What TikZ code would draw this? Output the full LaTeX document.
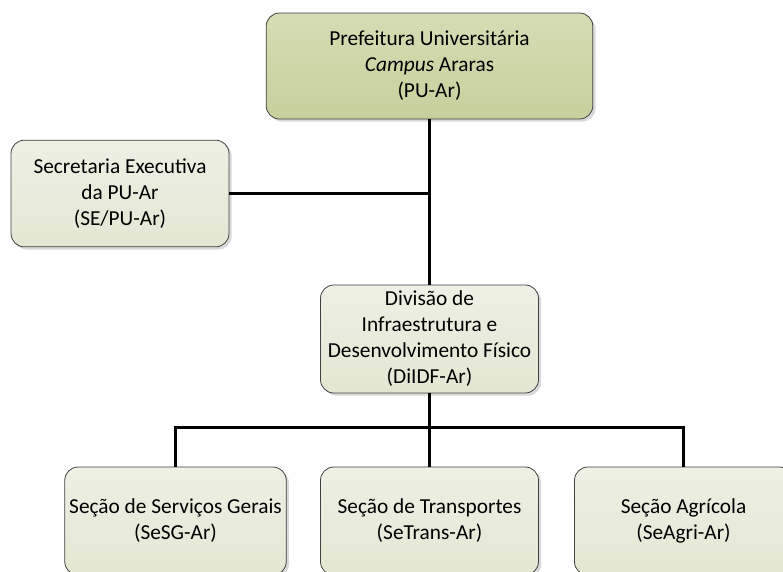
\documentclass[tikz,border=0pt]{standalone}
\usepackage{fontspec}
\setmainfont{Carlito}
\usepackage{tikz}
\usetikzlibrary{shapes.geometric, arrows, positioning, shadows}
\definecolor{headtop}{RGB}{214,220,180}
\definecolor{headbot}{RGB}{198,208,156}
\definecolor{unittop}{RGB}{238,240,228}
\definecolor{unitbot}{RGB}{227,231,210}
\tikzstyle{head} = [rectangle, rounded corners=10pt, minimum width=245pt, minimum height=79.5pt, align=center, draw=black!75, line width=0.6pt, top color=headtop, bottom color=headbot, drop shadow={shadow xshift=2pt, shadow yshift=-2pt, opacity=0.3}, font=\fontsize{16}{19.5}\selectfont]
\tikzstyle{unit} = [rectangle, rounded corners=10pt, minimum width=163.5pt, minimum height=81pt, align=center, draw=black!75, line width=0.6pt, top color=unittop, bottom color=unitbot, drop shadow={shadow xshift=2pt, shadow yshift=-2pt, opacity=0.3}, font=\fontsize{16}{19.5}\selectfont]
\tikzstyle{link} = [line width=2.25pt, black]

\begin{document}
\begin{tikzpicture}[x=0.75pt, y=-0.75pt]
            \useasboundingbox (0,0) rectangle (783,572);
            \clip (0,0) rectangle (783,572);

            % Place nodes
            \node (pu) [head] at (429.5,66) {Prefeitura Universitária\\ \textit{Campus} Araras\\ (PU-Ar)};
            \node (se) [unit, minimum height=80pt] at (120,193.5) {Secretaria Executiva\\ da PU-Ar\\ (SE/PU-Ar)};
            \node (di) [unit, below of=pu, node distance=204.75pt] {Divisão de\\ Infraestrutura e\\ Desenvolvimento Físico\\ (DiIDF-Ar)};
            \coordinate (bus) at ([yshift=-25.5pt]di.south);
            \node (tr) [unit, below of=di, node distance=136.5pt] {Seção de Transportes\\ (SeTrans-Ar)};
            \node (sg) [unit, left of=tr, node distance=190.5pt] {Seção de Serviços Gerais\\ (SeSG-Ar)};
            \node (ag) [unit, right of=tr, node distance=190.5pt] {Seção Agrícola\\ (SeAgri-Ar)};

            % Draw edges
            \draw [link] (pu.south) -- (di.north);
            \draw [link] (se.east) -- (se.east -| pu.south);
            \draw [link] (di.south) -- (bus);
            \draw [link] (bus) -| (sg.north);
            \draw [link] (bus) -- (tr.north);
            \draw [link] (bus) -| (ag.north);
\end{tikzpicture}
\end{document}
